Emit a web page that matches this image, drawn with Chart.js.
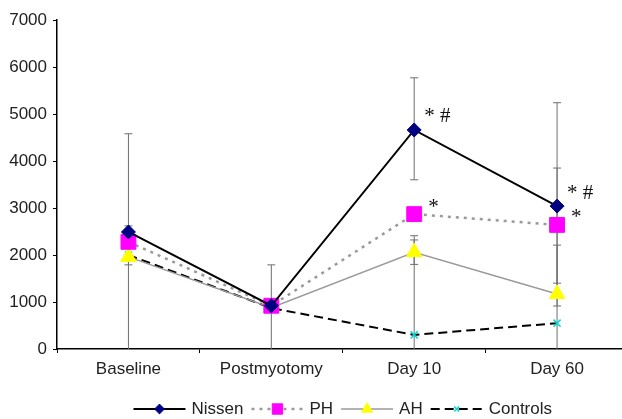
<!DOCTYPE html>
<html>
<head>
<meta charset="utf-8">
<script src="https://cdn.jsdelivr.net/npm/chart.js@4.4.0/dist/chart.umd.min.js"></script>
<style>
  html, body { margin: 0; padding: 0; background: #fff; overflow: hidden; }
  #wrap { width: 640px; height: 419px; }
</style>
</head>
<body>
<div id="wrap"><canvas id="chart" width="640" height="419"></canvas></div>
<script>
const categories = ['Baseline', 'Postmyotomy', 'Day 10', 'Day 60'];
const yMax = 7000;
const yStep = 1000;

const nissen = [2490, 920, 4660, 3040];
const ph = [2280, 920, 2870, 2640];
const ah = [1960, 880, 2060, 1170];
const controls = [2000, 870, 300, 550];

// error bar ends, null = none shown
const nissenLow = [-1600, -900, 3600, 915];
const nissenHigh = [4580, 1790, 5770, 5240];
const phLow = [1940, null, null, 1400];
const phHigh = [2620, null, null, 3850];
const ahLow = [null, null, 1800, -200];
const ahHigh = [null, null, 2320, 2210];
const controlsLow = [1790, null, -1800, null];
const controlsHigh = [null, null, 2410, null];

// significance marks
const nissenNotes = ['', '', '* #', '* #'];
const phNotes = ['', '', '*', '*'];

const FONT = "'Liberation Sans', Arial, sans-serif";

const errorBars = {
  id: 'errorBars',
  beforeDatasetsDraw(chart) {
    const {ctx, scales: {x, y}} = chart;
    ctx.save();
    ctx.strokeStyle = '#6e6e6e';
    ctx.lineWidth = 1;
    chart.data.datasets.forEach(ds => {
      ds.data.forEach((v, i) => {
        const px = x.getPixelForValue(i);
        [ds.errLow[i], ds.errHigh[i]].forEach(e => {
          if (e === null) return;
          const clipped = Math.max(e, 0);
          const py = y.getPixelForValue(clipped);
          ctx.beginPath();
          ctx.moveTo(px, y.getPixelForValue(v));
          ctx.lineTo(px, py);
          if (e > 0) {
            ctx.moveTo(px - 4, py);
            ctx.lineTo(px + 4, py);
          }
          ctx.stroke();
        });
      });
    });
    ctx.restore();
  }
};

const notes = {
  id: 'notes',
  afterDatasetsDraw(chart) {
    const {ctx} = chart;
    ctx.save();
    ctx.fillStyle = '#111';
    ctx.font = "21px 'Liberation Serif', 'Times New Roman', serif";
    ctx.textBaseline = 'middle';
    chart.data.datasets.forEach((ds, di) => {
      if (!ds.notes) return;
      const meta = chart.getDatasetMeta(di);
      ds.notes.forEach((t, i) => {
        if (!t) return;
        const pt = meta.data[i];
        ctx.fillText(t, pt.x + ds.noteDx, pt.y + ds.noteDy);
      });
    });
    ctx.restore();
  }
};

const legendLine = {
  id: 'legendLine',
  afterDraw(chart) {
    const {ctx, chartArea} = chart;
    const sampleW = 52, gapText = 6, gapItem = 8, rowY = 409;
    ctx.save();
    ctx.font = '17px ' + FONT;
    const items = chart.data.datasets.map(ds => ({ds, w: ctx.measureText(ds.label).width}));
    const total = items.reduce((s, it) => s + sampleW + gapText + it.w, 0) + gapItem * (items.length - 1);
    let cx = (chartArea.left + chartArea.right) / 2 - total / 2;
    items.forEach(({ds, w}) => {
      ctx.save();
      ctx.strokeStyle = ds.borderColor;
      ctx.lineWidth = ds.borderWidth;
      ctx.setLineDash(ds.borderDash || []);
      ctx.beginPath();
      ctx.moveTo(cx, rowY);
      ctx.lineTo(cx + sampleW, rowY);
      ctx.stroke();
      ctx.setLineDash([]);
      ctx.fillStyle = ds.pointBackgroundColor;
      ctx.strokeStyle = ds.pointBorderColor;
      ctx.lineWidth = ds.pointBorderWidth;
      Chart.helpers.drawPoint(ctx, {
        pointStyle: ds.pointStyle, rotation: 0,
        radius: ds.pointRadius * 0.7, borderWidth: ds.pointBorderWidth
      }, cx + sampleW / 2, rowY);
      ctx.restore();
      ctx.fillStyle = '#222';
      ctx.textBaseline = 'middle';
      ctx.fillText(ds.label, cx + sampleW + gapText, rowY);
      cx += sampleW + gapText + w + gapItem;
    });
    ctx.restore();
  }
};

new Chart(document.getElementById('chart'), {
  type: 'line',
  data: {
    labels: categories,
    datasets: [
      {
        label: 'Nissen', data: nissen, errLow: nissenLow, errHigh: nissenHigh,
        notes: nissenNotes, noteDx: 10, noteDy: -13,
        borderColor: '#000', borderWidth: 2,
        pointStyle: 'rectRot', pointRadius: 7,
        pointBackgroundColor: '#000080', pointBorderColor: '#000080', pointBorderWidth: 1
      },
      {
        label: 'PH', data: ph, errLow: phLow, errHigh: phHigh,
        notes: phNotes, noteDx: 14, noteDy: -7,
        borderColor: '#9a9a9a', borderWidth: 2.5, borderDash: [3, 5],
        pointStyle: 'rect', pointRadius: 10.5,
        pointBackgroundColor: '#ff00ff', pointBorderColor: '#ff00ff', pointBorderWidth: 1
      },
      {
        label: 'AH', data: ah, errLow: ahLow, errHigh: ahHigh,
        borderColor: '#9a9a9a', borderWidth: 1.5,
        pointStyle: 'triangle', pointRadius: 9,
        pointBackgroundColor: '#ffff00', pointBorderColor: '#ffff00', pointBorderWidth: 1
      },
      {
        label: 'Controls', data: controls, errLow: controlsLow, errHigh: controlsHigh,
        borderColor: '#000', borderWidth: 2, borderDash: [9, 5],
        pointStyle: 'crossRot', pointRadius: 5,
        pointBackgroundColor: '#00e0e0', pointBorderColor: '#00d8d8', pointBorderWidth: 1.5
      }
    ]
  },
  options: {
    responsive: false,
    animation: false,
    layout: {padding: {top: 20, right: 10, left: 0, bottom: 0}},
    plugins: {legend: {display: false}, tooltip: {enabled: false}},
    elements: {line: {tension: 0}},
    scales: {
      x: {
        offset: true,
        grid: {display: true, drawOnChartArea: false, drawTicks: true, tickLength: 4, color: '#000', offset: true},
        border: {display: true, color: '#000', width: 1.5},
        ticks: {color: '#222', font: {family: FONT, size: 17}, padding: 6, maxRotation: 0},
        afterFit(scale) { scale.height = 70; }
      },
      y: {
        min: 0, max: yMax,
        grid: {display: true, drawOnChartArea: false, drawTicks: true, tickLength: 4, color: '#000'},
        border: {display: true, color: '#000', width: 1.5},
        ticks: {stepSize: yStep, color: '#222', font: {family: FONT, size: 17}, padding: 6,
          callback: v => String(v)},
        afterFit(scale) { scale.width = 57; }
      }
    }
  },
  plugins: [errorBars, notes, legendLine]
});
</script>
</body>
</html>
